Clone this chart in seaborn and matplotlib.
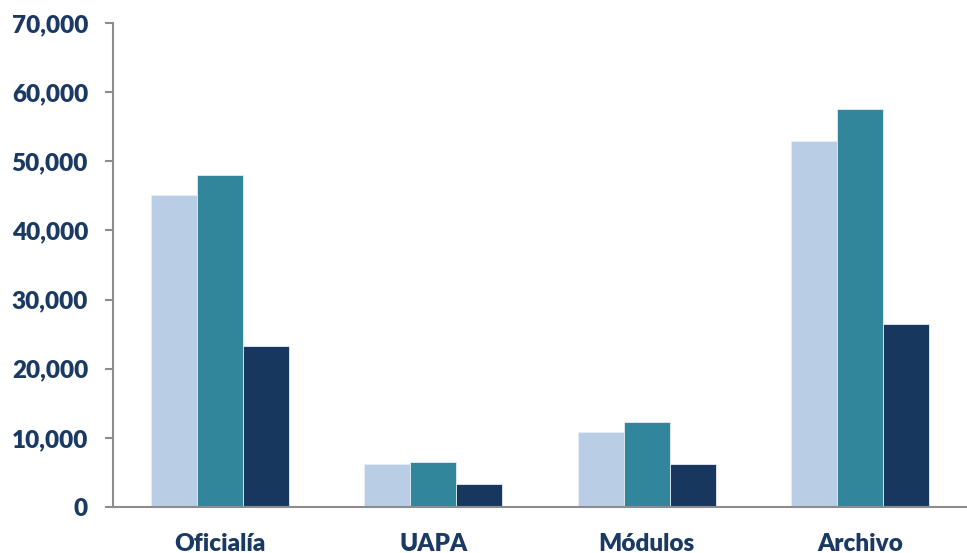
import pandas as pd
import seaborn as sns
import matplotlib.pyplot as plt
from matplotlib.ticker import FuncFormatter

categories = ["Oficialía", "UAPA", "Módulos", "Archivo"]
series_names = ["Serie 1", "Serie 2", "Serie 3"]
serie_1 = [45100, 6200, 10850, 52950]
serie_2 = [48050, 6500, 12300, 57600]
serie_3 = [23300, 3300, 6200, 26450]

colors = ["#B9CDE5", "#31869B", "#17375E"]
text_color = "#1B3A63"

rows = []
for name, vals in zip(series_names, [serie_1, serie_2, serie_3]):
    for cat, v in zip(categories, vals):
        rows.append({"categoria": cat, "serie": name, "valor": v})
df = pd.DataFrame(rows)

sns.set_style("white")
plt.rcParams["font.family"] = ["Lato", "DejaVu Sans"]

fig = plt.figure(figsize=(9.67, 5.53), dpi=100)
ax = fig.add_axes([0.1169, 0.0832, 0.8831, 0.8752])

sns.barplot(
    data=df,
    x="categoria",
    y="valor",
    hue="serie",
    palette=colors,
    width=0.646,
    gap=0,
    saturation=1,
    legend=False,
    linewidth=0.6,
    edgecolor="#E6EDF5",
    ax=ax,
)

ax.set_ylim(0, 70000)
ax.set_yticks(range(0, 70001, 10000))
ax.yaxis.set_major_formatter(FuncFormatter(lambda v, p: f"{int(v):,}"))
ax.set_xlabel("")
ax.set_ylabel("")

for side in ["top", "right"]:
    ax.spines[side].set_visible(False)
for side in ["left", "bottom"]:
    ax.spines[side].set_color("#8C8C8C")
    ax.spines[side].set_linewidth(1.5)

ax.tick_params(axis="y", which="major", left=True, length=6, width=1.5,
               color="#8C8C8C", labelsize=17.5, labelcolor=text_color, pad=12)
ax.tick_params(axis="x", bottom=False, labelsize=17.5, labelcolor=text_color, pad=15)
for lbl in ax.get_xticklabels() + ax.get_yticklabels():
    lbl.set_fontweight("heavy")

fig.savefig("out.png", dpi=100)
